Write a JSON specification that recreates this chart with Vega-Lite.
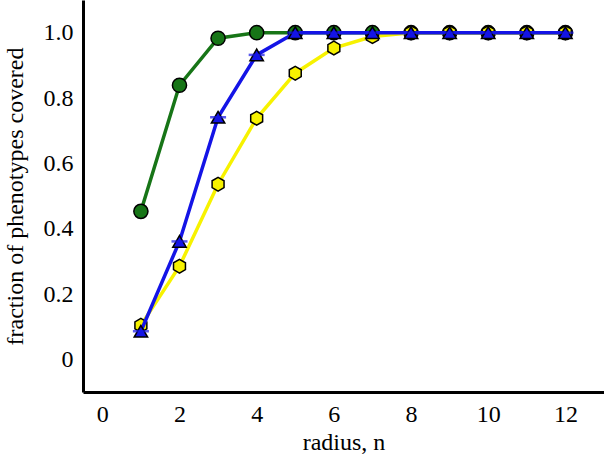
{
  "$schema": "https://vega.github.io/schema/vega-lite/v6.json",
  "width": 521,
  "height": 392,
  "autosize": {"type": "none"},
  "padding": {"left": 83, "top": 0, "right": 0, "bottom": 65},
  "background": "white",
  "config": {
    "view": {"stroke": null},
    "font": "Liberation Serif"
  },
  "data": {
    "values": [
      {"series": "green", "x": 1, "y": 0.453},
      {"series": "green", "x": 2, "y": 0.839},
      {"series": "green", "x": 3, "y": 0.983},
      {"series": "green", "x": 4, "y": 1.0},
      {"series": "green", "x": 5, "y": 1.0},
      {"series": "green", "x": 6, "y": 1.0},
      {"series": "green", "x": 7, "y": 1.0},
      {"series": "green", "x": 8, "y": 1.0},
      {"series": "green", "x": 9, "y": 1.0},
      {"series": "green", "x": 10, "y": 1.0},
      {"series": "green", "x": 11, "y": 1.0},
      {"series": "green", "x": 12, "y": 1.0},
      {"series": "yellow", "x": 1, "y": 0.104},
      {"series": "yellow", "x": 2, "y": 0.285},
      {"series": "yellow", "x": 3, "y": 0.536},
      {"series": "yellow", "x": 4, "y": 0.738},
      {"series": "yellow", "x": 5, "y": 0.876},
      {"series": "yellow", "x": 6, "y": 0.953},
      {"series": "yellow", "x": 7, "y": 0.988},
      {"series": "yellow", "x": 8, "y": 1.0},
      {"series": "yellow", "x": 9, "y": 1.0},
      {"series": "yellow", "x": 10, "y": 1.0},
      {"series": "yellow", "x": 11, "y": 1.0},
      {"series": "yellow", "x": 12, "y": 1.0},
      {"series": "blue", "x": 1, "y": 0.086},
      {"series": "blue", "x": 2, "y": 0.361},
      {"series": "blue", "x": 3, "y": 0.741},
      {"series": "blue", "x": 4, "y": 0.932},
      {"series": "blue", "x": 5, "y": 1.0},
      {"series": "blue", "x": 6, "y": 1.0},
      {"series": "blue", "x": 7, "y": 1.0},
      {"series": "blue", "x": 8, "y": 1.0},
      {"series": "blue", "x": 9, "y": 1.0},
      {"series": "blue", "x": 10, "y": 1.0},
      {"series": "blue", "x": 11, "y": 1.0},
      {"series": "blue", "x": 12, "y": 1.0}
    ]
  },
  "encoding": {
    "x": {
      "field": "x", "type": "quantitative",
      "scale": {"domain": [-0.5, 13], "nice": false, "zero": false},
      "axis": {"title": "radius, n", "values": [0, 2, 4, 6, 8, 10, 12],
               "labelFont": "Liberation Serif", "titleFont": "Liberation Serif",
               "labelFontSize": 24, "titleFontSize": 24, "titleFontWeight": "normal",
               "labelColor": "black", "titleColor": "black",
               "domainColor": "black", "tickColor": "black", "domainWidth": 3, "tickWidth": 2,
               "tickSize": 1, "grid": false,
               "labelPadding": 9, "titlePadding": 4,
               "encode": {"ticks": {"update": {"y2": {"value": -11}}},
                          "labels": {"update": {"font": {"value": "Liberation Serif"}}}}}
    },
    "y": {
      "field": "y", "type": "quantitative",
      "scale": {"domain": [-0.1, 1.1], "nice": false, "zero": false},
      "axis": {"title": "fraction of phenotypes covered", "values": [0, 0.2, 0.4, 0.6, 0.8, 1.0],
               "labelExpr": "datum.value == 0 ? '0' : format(datum.value, '.1f')",
               "labelFont": "Liberation Serif", "titleFont": "Liberation Serif",
               "labelFontSize": 24, "titleFontSize": 24, "titleFontWeight": "normal",
               "labelColor": "black", "titleColor": "black",
               "domainColor": "black", "tickColor": "black", "domainWidth": 3, "tickWidth": 2,
               "tickSize": 1, "grid": false,
               "labelPadding": 9, "titlePadding": 16,
               "encode": {"ticks": {"update": {"x2": {"value": 11}}},
                          "labels": {"update": {"font": {"value": "Liberation Serif"}}}}}
    }
  },
  "layer": [
    {"transform": [{"filter": "datum.series == 'green'"}], "mark": {"type": "line", "color": "#177517", "strokeWidth": 3.5}},
    {"transform": [{"filter": "datum.series == 'green'"}], "mark": {"type": "point", "shape": "circle", "filled": true, "fill": "#177517", "fillOpacity": 1, "stroke": "black", "strokeWidth": 1.5, "size": 200}},
    {"transform": [{"filter": "datum.series == 'yellow'"}], "mark": {"type": "line", "color": "#f7f200", "strokeWidth": 3.5}},
    {"transform": [{"filter": "datum.series == 'yellow'"}], "mark": {"type": "point", "shape": "M0,-1L0.866,-0.5L0.866,0.5L0,1L-0.866,0.5L-0.866,-0.5Z", "filled": true, "fill": "#f7f200", "fillOpacity": 1, "stroke": "black", "strokeWidth": 1.5, "size": 190}},
    {"transform": [{"filter": "datum.series == 'blue'"}], "mark": {"type": "line", "color": "#1414e6", "strokeWidth": 3.5}},
    {"transform": [{"filter": "datum.series == 'blue'"}], "mark": {"type": "point", "shape": "triangle-up", "filled": true, "fill": "#1414e6", "fillOpacity": 1, "stroke": "black", "strokeWidth": 1.5, "size": 180}},
    {"transform": [{"filter": "datum.series == 'blue'"}], "mark": {"type": "tick", "orient": "horizontal", "color": "#1414e6", "size": 16, "thickness": 2.5}}
  ]
}
